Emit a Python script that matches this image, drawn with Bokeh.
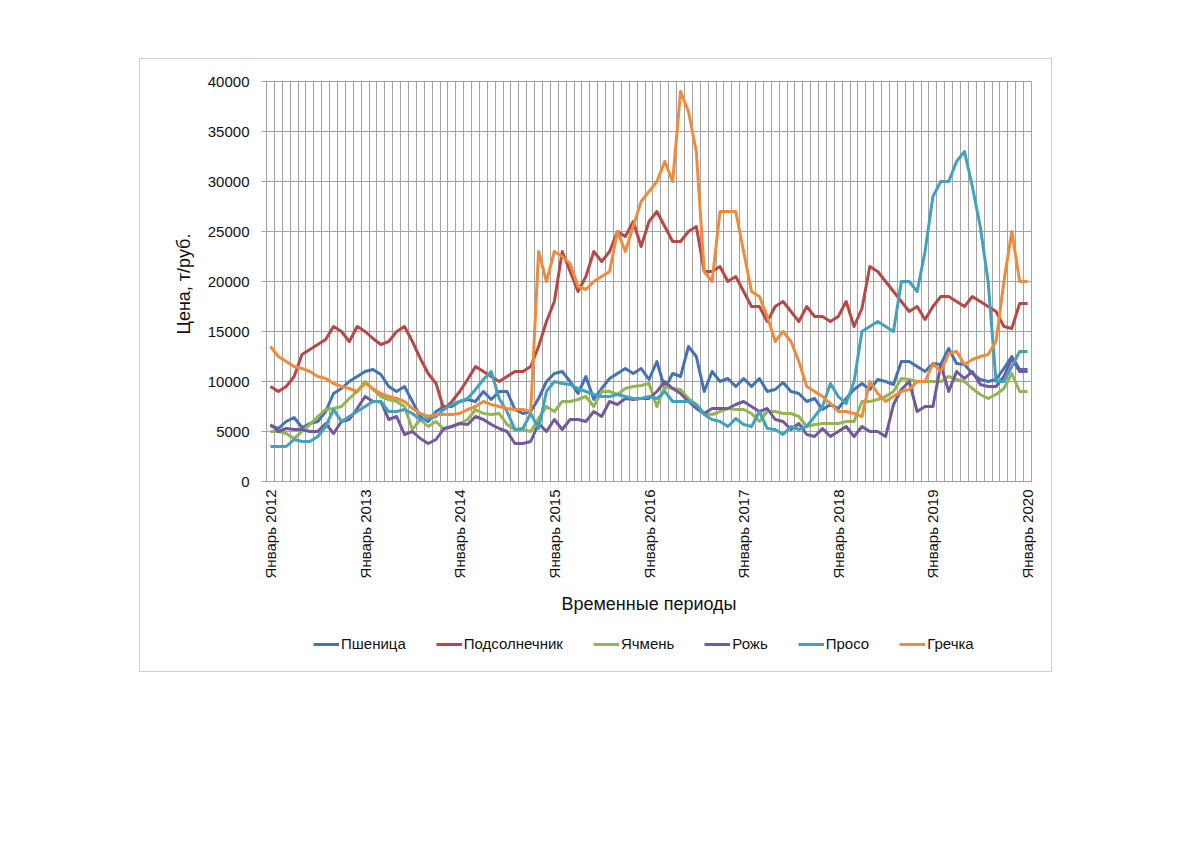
from math import pi
from bokeh.plotting import figure
from bokeh.layouts import column
from bokeh.models import FixedTicker, Legend, LegendItem
from bokeh.embed import file_html
from bokeh.resources import INLINE

# ---- data (monthly, Jan 2012 .. Jan 2020) ----
years = [2012, 2013, 2014, 2015, 2016, 2017, 2018, 2019, 2020]
tick_labels = ["Январь %d" % y for y in years]

wheat = [5600, 5300, 6000, 6400, 5400, 5800, 6000, 7000, 8800, 9300, 10000, 10500,
         11000, 11200, 10700, 9500, 9000, 9500, 8000, 6500, 6000, 7000, 7500, 7500,
         8000, 8200, 8000, 9000, 8200, 9000, 9000, 7200, 6800, 7000, 8300, 10000,
         10800, 11000, 10000, 8800, 10500, 8200, 9300, 10300, 10800, 11300, 10800, 11300,
         10200, 12000, 9300, 10800, 10500, 13500, 12500, 9000, 11000, 10000, 10300, 9500,
         10300, 9500, 10300, 9000, 9200, 9900, 9000, 8800, 8000, 8300, 7200, 7700,
         7300, 8300, 9200, 9800, 9200, 10200, 10000, 9700, 12000, 12000, 11500, 11000,
         11800, 11700, 13300, 11800, 11700, 10800, 10200, 10000, 10200, 11300, 12500, 11200, 11200]

sunflower = [9500, 9000, 9500, 10500, 12700, 13200, 13700, 14200, 15500, 15000, 14000, 15500,
             15000, 14300, 13700, 14000, 15000, 15500, 14000, 12300, 10800, 9800, 7200, 8000,
             9000, 10200, 11500, 11000, 10500, 10000, 10500, 11000, 11000, 11500, 13500, 16000,
             18000, 23000, 21000, 19000, 20500, 23000, 22000, 23000, 25000, 24500, 26000, 23500,
             26000, 27000, 25500, 24000, 24000, 25000, 25500, 21000, 21000, 21500, 20000, 20500,
             19000, 17500, 17500, 16000, 17500, 18000, 17000, 16000, 17500, 16500, 16500, 16000,
             16500, 18000, 15500, 17300, 21500, 21000, 20000, 19000, 18000, 17000, 17500, 16200,
             17500, 18500, 18500, 18000, 17500, 18500, 18000, 17500, 17000, 15500, 15300, 17800, 17800]

barley = [5000, 5000, 4800, 4300, 5000, 5700, 6500, 7200, 7300, 7500, 8300, 9000,
          10000, 9200, 8500, 8200, 8000, 7500, 5200, 6200, 5500, 6000, 5200, 5500,
          5800, 6200, 7200, 6800, 6700, 6800, 5700, 5200, 5200, 5000, 6300, 7500,
          7000, 8000, 8000, 8200, 8500, 7500, 9000, 9000, 8700, 9300, 9500, 9600,
          9800, 7500, 9500, 9300, 9200, 8300, 7700, 6800, 6700, 7000, 7300, 7200,
          7200, 6800, 6000, 7000, 7000, 6800, 6800, 6500, 5500, 5700, 5800, 5800,
          5800, 6000, 6000, 8000, 8000, 8200, 8500, 9000, 10300, 10200, 10000, 10000,
          10000, 10000, 10500, 10200, 10000, 9300, 8700, 8300, 8700, 9300, 10800, 9000, 9000]

rye = [5700, 5000, 5300, 5200, 5200, 5000, 5000, 5800, 4800, 6000, 6200, 7300,
       8500, 8000, 8000, 6200, 6500, 4700, 5000, 4300, 3800, 4200, 5300, 5500,
       5800, 5700, 6500, 6200, 5700, 5300, 5000, 3800, 3800, 4000, 5800, 5000,
       6200, 5200, 6200, 6200, 6000, 7000, 6500, 8000, 7700, 8300, 8200, 8300,
       8300, 9000, 10000, 9300, 8800, 8000, 7300, 6800, 7300, 7300, 7300, 7700,
       8000, 7500, 7000, 7300, 6200, 6000, 5200, 5800, 4700, 4500, 5300, 4500,
       5000, 5500, 4500, 5500, 5000, 5000, 4500, 7700, 9200, 10000, 7000, 7500,
       7500, 11700, 9000, 11000, 10300, 11000, 9700, 9500, 9500, 10500, 12300, 11000, 11000]

millet = [3500, 3500, 3500, 4200, 4000, 4000, 4500, 5500, 7200, 6000, 6500, 7000,
          7500, 8000, 8000, 7000, 7000, 7200, 6800, 6200, 6300, 6500, 7200, 7700,
          8000, 8300, 9200, 10200, 11000, 8300, 7000, 5200, 5300, 6800, 5300, 9000,
          10000, 9800, 9700, 9300, 9000, 8700, 8500, 8500, 8700, 8500, 8300, 8300,
          8500, 8300, 9000, 8000, 8000, 8000, 7700, 6700, 6200, 6000, 5500, 6300,
          5700, 5500, 7000, 5300, 5200, 4700, 5500, 5200, 5500, 6500, 7500, 9800,
          8500, 7800, 10000, 15000, 15500, 16000, 15500, 15000, 20000, 20000, 19000, 23000,
          28500, 30000, 30000, 32000, 33000, 29500, 25500, 20000, 10000, 10000, 11500, 13000, 13000]

buckwheat = [13500, 12500, 12000, 11500, 11300, 11000, 10500, 10300, 9800, 9500, 9300, 9000,
             9800, 9300, 8800, 8500, 8300, 8000, 7300, 6800, 6500, 6700, 6700, 6700,
             6800, 7200, 7500, 8000, 7700, 7500, 7300, 7200, 7200, 7000, 23000, 20000,
             23000, 22500, 21800, 19500, 19200, 20000, 20500, 21000, 25000, 23000, 25500, 28000,
             29000, 30000, 32000, 30000, 39000, 37000, 33000, 21000, 20000, 27000, 27000, 27000,
             23000, 19000, 18500, 16500, 14000, 15000, 14000, 12000, 9500, 9000, 8500, 7800,
             7000, 7000, 6800, 6500, 10000, 8800, 8000, 8500, 9000, 9200, 10000, 10000,
             11800, 11000, 12800, 13000, 11700, 12200, 12500, 12700, 14000, 20000, 25000, 20000, 20000]

series_names = ["Пшеница", "Подсолнечник", "Ячмень", "Рожь", "Просо", "Гречка"]
series_values = [wheat, sunflower, barley, rye, millet, buckwheat]
series_colors = ["#4473B5", "#B84845", "#93B552", "#7358A0", "#40A2BD", "#EE8B3D"]

n = len(wheat)
xs = [i + 0.5 for i in range(n)]

FONT = "Liberation Sans"
TXT = "#111111"
GRID = "#a3a3a3"

p = figure(frame_width=765, frame_height=400, x_range=(0, n), y_range=(0, 40000),
           output_backend="svg", toolbar_location=None,
           min_border_left=126, min_border_right=20, min_border_top=22,
           min_border_bottom=140)
p.background_fill_color = "white"
p.border_fill_color = "white"
p.outline_line_color = GRID

# grids
p.xgrid.ticker = FixedTicker(ticks=list(range(n + 1)))
p.xgrid.grid_line_color = GRID
p.xgrid.grid_line_width = 1
p.ygrid.ticker = FixedTicker(ticks=list(range(0, 40001, 5000)))
p.ygrid.grid_line_color = GRID
p.ygrid.grid_line_width = 1

# x axis
tick_pos = [i * 12 + 0.5 for i in range(len(years))]
p.xaxis.ticker = FixedTicker(ticks=tick_pos)
p.xaxis.major_label_overrides = {tp: lab for tp, lab in zip(tick_pos, tick_labels)}
p.xaxis.major_label_orientation = pi / 2
p.xaxis.major_tick_out = 0
p.xaxis.major_tick_in = 0
p.xaxis.minor_tick_out = 0
p.xaxis.minor_tick_in = 0
p.xaxis.axis_line_color = GRID
p.xaxis.major_label_standoff = 8
p.xaxis.major_label_text_font = FONT
p.xaxis.major_label_text_font_size = "15px"
p.xaxis.major_label_text_color = TXT
p.xaxis.axis_label = "Временные периоды"
p.xaxis.axis_label_standoff = 13
p.xaxis.axis_label_text_font = FONT
p.xaxis.axis_label_text_font_size = "18px"
p.xaxis.axis_label_text_font_style = "normal"
p.xaxis.axis_label_text_color = TXT

# y axis
p.yaxis.ticker = FixedTicker(ticks=list(range(0, 40001, 5000)))
p.yaxis.major_tick_out = 5
p.yaxis.major_tick_in = 0
p.yaxis.minor_tick_out = 0
p.yaxis.minor_tick_in = 0
p.yaxis.major_tick_line_color = GRID
p.yaxis.axis_line_color = GRID
p.yaxis.major_label_standoff = 12
p.yaxis.major_label_text_font = FONT
p.yaxis.major_label_text_font_size = "15px"
p.yaxis.major_label_text_color = TXT
p.yaxis.axis_label = "Цена,  т/руб."
p.yaxis.axis_label_standoff = 11
p.yaxis.axis_label_text_font = FONT
p.yaxis.axis_label_text_font_size = "18px"
p.yaxis.axis_label_text_font_style = "normal"
p.yaxis.axis_label_text_color = TXT

for vals, col in zip(series_values, series_colors):
    p.line(xs, vals, line_color=col, line_width=3, line_join="round")

# legend strip below the chart (separate small canvas so it is not clipped)
q = figure(frame_width=765, frame_height=44, x_range=(0, 1), y_range=(0, 1),
           output_backend="svg", toolbar_location=None,
           min_border_left=126, min_border_right=20, min_border_top=0,
           min_border_bottom=6)
q.axis.visible = False
q.grid.visible = False
q.outline_line_color = None
q.background_fill_color = "white"
q.border_fill_color = "white"

items = []
for name, col in zip(series_names, series_colors):
    # proxy renderer placed outside the visible range: only its legend swatch shows
    r = q.line([-5, -4], [-5, -5], line_color=col, line_width=3)
    items.append(LegendItem(label=name, renderers=[r]))

legend = Legend(items=items, orientation="horizontal", location=(47, 13),
                label_text_font=FONT, label_text_font_size="15px", label_text_color=TXT,
                glyph_width=26, glyph_height=16, label_standoff=2, spacing=30,
                padding=0, margin=0, border_line_color=None, background_fill_alpha=0)
q.add_layout(legend, "center")

layout = column(p, q, spacing=0)
layout.margin = (58, 0, 0, 139)
layout.styles = {"border": "1px solid #cfcfcf"}

open("out.html", "w").write(file_html(layout, INLINE))
